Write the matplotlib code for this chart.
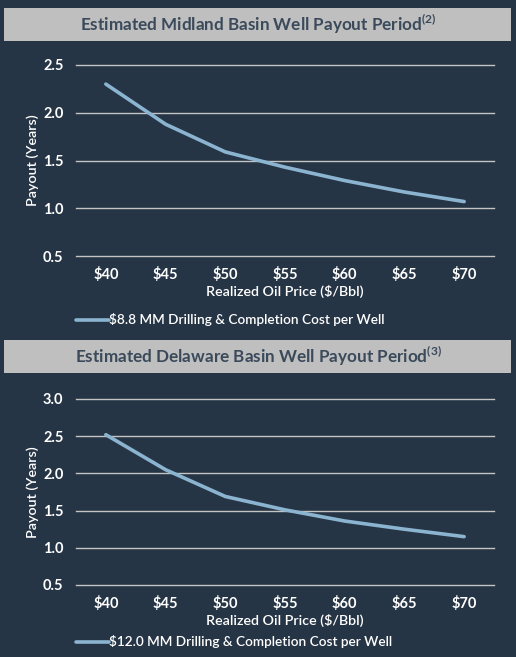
import matplotlib
matplotlib.use('Agg')
import matplotlib.pyplot as plt
from matplotlib.patches import Rectangle

# --- Dados ---
precos = ['$40', '$45', '$50', '$55', '$60', '$65', '$70']
payout_midland = [2.30, 1.88, 1.59, 1.43, 1.29, 1.17, 1.07]
payout_delaware = [2.52, 2.05, 1.69, 1.51, 1.36, 1.25, 1.15]
legenda_midland = '$8.8 MM Drilling & Completion Cost per Well'
legenda_delaware = '$12.0 MM Drilling & Completion Cost per Well'
titulo_midland = 'Estimated Midland Basin Well Payout Period'
titulo_delaware = 'Estimated Delaware Basin Well Payout Period'
nota_midland = '(2)'
nota_delaware = '(3)'

# --- Cores ---
FUNDO = '#263545'
CAIXA = '#BFBFBF'
TEXTO_TITULO = '#3B4A5B'
GRADE = '#C4C4C4'
LINHA = '#8BB4D0'

plt.rcParams['font.family'] = ['Lato', 'DejaVu Sans']
plt.rcParams['mathtext.fontset'] = 'custom'
plt.rcParams['mathtext.bf'] = 'Lato:bold'
plt.rcParams['mathtext.rm'] = 'Lato'

W, H = 516, 657
fig = plt.figure(figsize=(W / 100, H / 100), dpi=100, facecolor=FUNDO)


def caixa_titulo(y0, y1, texto, nota):
    fig.patches.append(Rectangle((4 / W, 1 - y1 / H), 507 / W, (y1 - y0) / H,
                                 transform=fig.transFigure, facecolor=CAIXA,
                                 edgecolor='none', zorder=0))
    yc = 1 - (y0 + y1) / 2 / H
    fig.text(0.5, yc, texto + r'$^{\mathbf{' + nota + '}}$', ha='center', va='center',
             fontsize=12.3, fontweight='bold', color=TEXTO_TITULO)


def grafico(top, bottom, valores, ymax, legenda, leg_off):
    ax = fig.add_axes([76 / W, 1 - bottom / H, 418 / W, (bottom - top) / H])
    ax.set_facecolor(FUNDO)
    x = list(range(len(precos)))
    ax.plot(x, valores, color=LINHA, linewidth=2.6, solid_capstyle='round',
            solid_joinstyle='round', label=legenda, zorder=3)
    ax.set_xlim(-0.5, len(precos) - 0.5)
    ax.set_ylim(0.5, ymax)
    ticks = [0.5 + 0.5 * i for i in range(int(round((ymax - 0.5) / 0.5)) + 1)]
    ax.set_yticks(ticks)
    ax.set_yticklabels([f'{t:.1f}' for t in ticks])
    ax.set_xticks(x)
    ax.set_xticklabels(precos)
    for s in ax.spines.values():
        s.set_visible(False)
    ax.tick_params(length=0, colors='white', labelsize=10.5)
    ax.tick_params(axis='x', pad=8)
    ax.tick_params(axis='y', pad=9)
    for lbl in ax.get_xticklabels() + ax.get_yticklabels():
        lbl.set_fontweight('bold')
    ax.grid(axis='y', color=GRADE, linewidth=1.0)
    for g in ax.yaxis.get_gridlines():
        g.set_clip_on(False)
    ax.set_axisbelow(True)
    altura = bottom - top
    ax.set_xlabel('Realized Oil Price ($/Bbl)', color='white', fontsize=10.3,
                  fontweight='semibold')
    ax.xaxis.set_label_coords(0.5, -29 / altura)
    ax.set_ylabel('Payout (Years)', color='white', fontsize=10.3, fontweight='semibold')
    ax.yaxis.set_label_coords(-43 / 418, 0.5)
    ax.yaxis.label.set_va('center')
    ax.legend(loc='center left', bbox_to_anchor=(0, -leg_off / altura), frameon=False,
              borderpad=0, borderaxespad=0, handletextpad=0, handlelength=2.4,
              labelcolor='white', prop={'size': 9.8, 'weight': 'semibold'})
    return ax


caixa_titulo(8, 41, titulo_midland, nota_midland)
grafico(65, 256, payout_midland, 2.5, legenda_midland, 64)

caixa_titulo(340, 373, titulo_delaware, nota_delaware)
grafico(399, 585, payout_delaware, 3.0, legenda_delaware, 57)

plt.savefig('out.png', dpi=100, facecolor=FUNDO)
